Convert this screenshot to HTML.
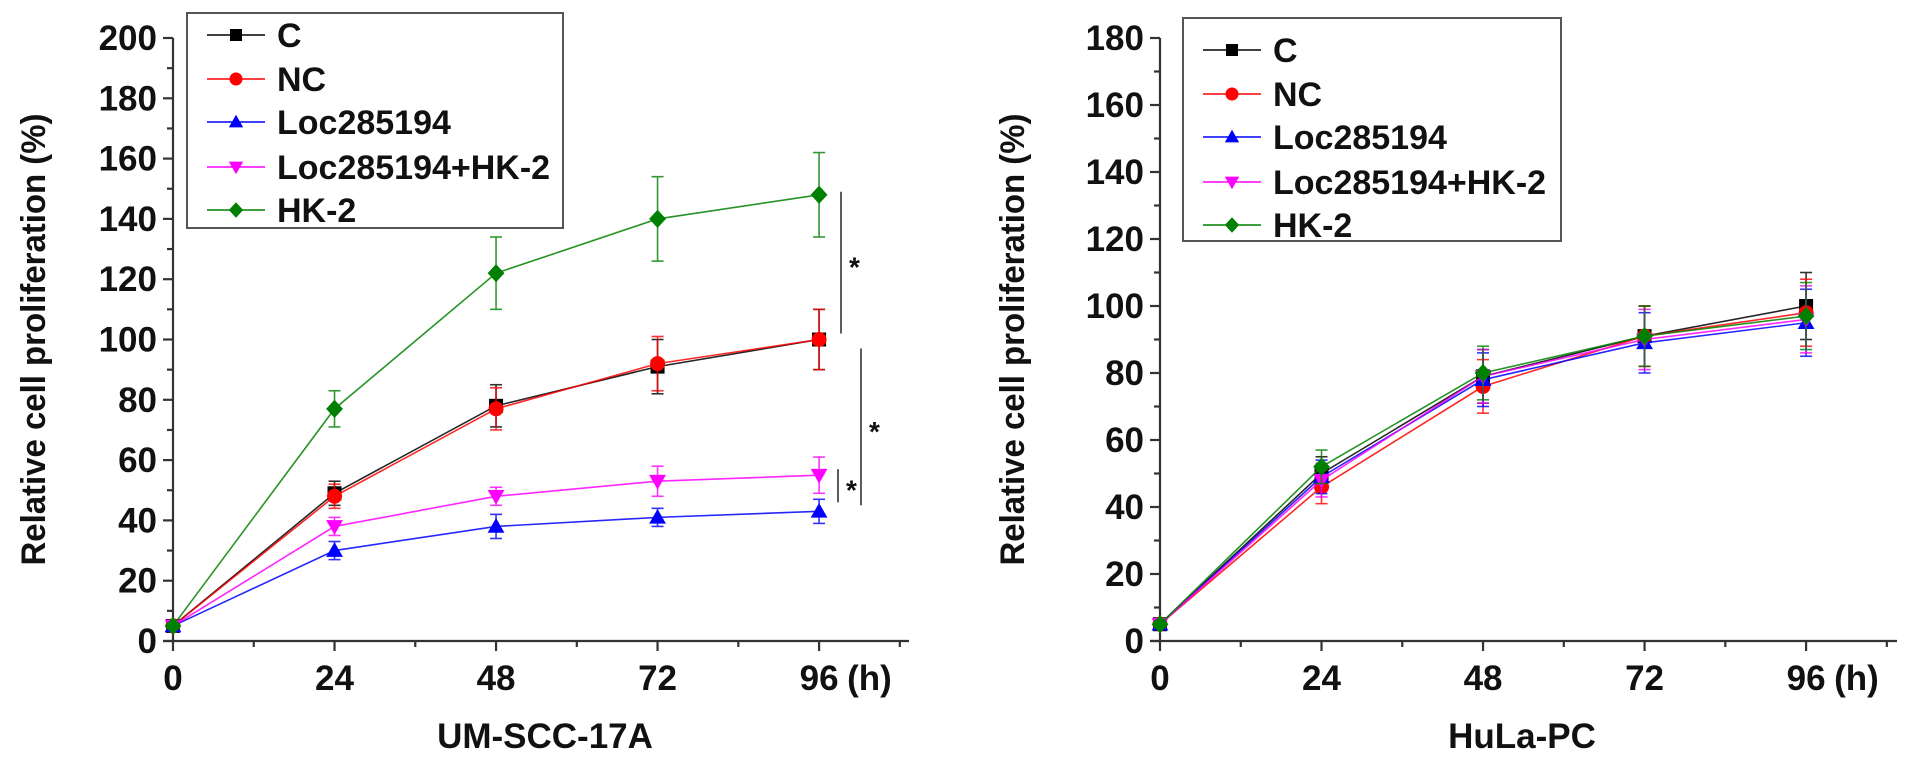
<!DOCTYPE html>
<html><head><meta charset="utf-8"><style>
html,body{margin:0;padding:0;background:#fff}
svg{display:block}
text{font-family:"Liberation Sans",Arial,sans-serif;font-weight:bold;fill:#111}
</style></head><body>
<svg id="chart" width="1913" height="763" viewBox="0 0 1913 763" xmlns="http://www.w3.org/2000/svg"></svg>
<script>
const hours = [0, 24, 48, 72, 96];
const seriesNames = ["C", "NC", "Loc285194", "Loc285194+HK-2", "HK-2"];
const seriesColors = ["#000000", "#ff0000", "#0000ff", "#ff00ff", "#008000"];
const seriesMarkers = ["square", "circle", "triUp", "triDown", "diamond"];
// Left panel (UM-SCC-17A)
const leftC = [5, 49, 78, 91, 100];
const leftNC = [5, 48, 77, 92, 100];
const leftLoc = [5, 30, 38, 41, 43];
const leftLocHK = [5, 38, 48, 53, 55];
const leftHK = [5, 77, 122, 140, 148];
const leftErrC = [1, 4, 7, 9, 10];
const leftErrNC = [1, 4, 7, 9, 10];
const leftErrLoc = [1, 3, 4, 3, 4];
const leftErrLocHK = [1, 3, 3, 5, 6];
const leftErrHK = [1, 6, 12, 14, 14];
// Right panel (HuLa-PC)
const rightC = [5, 50, 79, 91, 100];
const rightNC = [5, 46, 76, 91, 98];
const rightLoc = [5, 49, 78, 89, 95];
const rightLocHK = [5, 48, 79, 90, 96];
const rightHK = [5, 52, 80, 91, 97];
const rightErr = [1, 5, 8, 9, 10];
const leftYTicks = [0, 20, 40, 60, 80, 100, 120, 140, 160, 180, 200];
const rightYTicks = [0, 20, 40, 60, 80, 100, 120, 140, 160, 180];
const xTickLabels = ["0", "24", "48", "72", "96"];
// significance brackets [from, to] in y-values
const sigBrackets = [[149, 102], [97, 45], [57, 46]];

const NS = "http://www.w3.org/2000/svg";
const svg = document.getElementById("chart");
function mk(tag, attrs, parent) {
  const e = document.createElementNS(NS, tag);
  for (const k in attrs) e.setAttribute(k, attrs[k]);
  (parent || svg).appendChild(e);
  return e;
}
function marker(g, type, cx, cy, color, s) {
  let el;
  if (type === "square") el = mk("rect", {x: cx - s/2, y: cy - s/2, width: s, height: s, fill: color}, g);
  else if (type === "circle") el = mk("circle", {cx, cy, r: s/2 + 0.5, fill: color}, g);
  else if (type === "triUp") el = mk("polygon", {points: `${cx},${cy - s*0.6} ${cx - s*0.6},${cy + s*0.45} ${cx + s*0.6},${cy + s*0.45}`, fill: color}, g);
  else if (type === "triDown") el = mk("polygon", {points: `${cx},${cy + s*0.6} ${cx - s*0.6},${cy - s*0.45} ${cx + s*0.6},${cy - s*0.45}`, fill: color}, g);
  else el = mk("polygon", {points: `${cx},${cy - s*0.65} ${cx + s*0.6},${cy} ${cx},${cy + s*0.65} ${cx - s*0.6},${cy}`, fill: color}, g);
  return el;
}

function panel(cfg) {
  const g = mk("g", {});
  
  
  const X = v => cfg.x0 + v * cfg.xs;
  const Y = v => cfg.y0 - v * cfg.ys;
  const ymax = cfg.yTicks[cfg.yTicks.length - 1];
  const ax = mk("g", {stroke: "#333", "stroke-width": 2.2, fill: "none"}, g);
  
  
  mk("line", {x1: cfg.x0, y1: Y(ymax), x2: cfg.x0, y2: cfg.y0}, ax);
  mk("line", {x1: cfg.x0 - 10, y1: cfg.y0, x2: cfg.xEnd, y2: cfg.y0}, ax);
  for (let v = 0; v <= ymax; v += 10) {
    const major = v % 20 === 0;
    mk("line", {x1: cfg.x0 - (major ? 10 : 6), y1: Y(v), x2: cfg.x0, y2: Y(v)}, ax);
  }
  for (let h = 12; X(h) <= cfg.xEnd; h += 12) {
    mk("line", {x1: X(h), y1: cfg.y0, x2: X(h), y2: cfg.y0 + (h % 24 === 0 ? 10 : 6)}, ax);
  }
  mk("line", {x1: X(0), y1: cfg.y0, x2: X(0), y2: cfg.y0 + 10}, ax);
  cfg.yTicks.forEach(v => {
    const t = mk("text", {x: cfg.x0 - 16, y: Y(v) + 12, "text-anchor": "end", "font-size": 35}, g);
    t.textContent = v;
    
    
  });
  xTickLabels.forEach((lab, i) => {
    const t = mk("text", {x: X(hours[i]), y: 690, "text-anchor": "middle", "font-size": 35}, g);
    t.textContent = lab;
    
    
  });
  const hu = mk("text", {x: X(96) + 28, y: 690, "font-size": 35}, g);
  hu.textContent = "(h)";
  
  
  const xt = mk("text", {x: cfg.titleX, y: 748, "text-anchor": "middle", "font-size": 35}, g);
  xt.textContent = cfg.title;
  
  
  const yt = mk("text", {x: 0, y: 0, "text-anchor": "middle", "font-size": 34, textLength: 452, lengthAdjust: "spacingAndGlyphs", transform: `translate(${cfg.yTitleX},${(Y(ymax) + cfg.y0) / 2}) rotate(-90)`}, g);
  yt.textContent = "Relative cell proliferation (%)";
  
  
  cfg.series.forEach((vals, si) => {
    const sg = mk("g", {}, g);
    
    
    const col = seriesColors[si];
    const pts = vals.map((v, i) => `${X(hours[i])},${Y(v)}`).join(" ");
    mk("polyline", {points: pts, fill: "none", stroke: col, "stroke-width": 1.6, opacity: 0.85}, sg);
    vals.forEach((v, i) => {
      const e = cfg.errs[si][i];
      const x = X(hours[i]);
      const eg = mk("g", {stroke: col, "stroke-width": 1.6, opacity: 0.8}, sg);
      
      
      mk("line", {x1: x, y1: Y(v - e), x2: x, y2: Y(v + e)}, eg);
      mk("line", {x1: x - 6, y1: Y(v - e), x2: x + 6, y2: Y(v - e)}, eg);
      mk("line", {x1: x - 6, y1: Y(v + e), x2: x + 6, y2: Y(v + e)}, eg);
      const m = marker(sg, seriesMarkers[si], x, Y(v), col, 14);
      
      
    });
  });
  const L = cfg.legend;
  const lg = mk("g", {}, g);
  
  
  mk("rect", {x: L.x, y: L.y, width: L.w, height: L.h, fill: "#fff", stroke: "#555", "stroke-width": 2}, lg);
  seriesNames.forEach((nm, i) => {
    const ry = L.rows[i];
    const eg = mk("g", {}, lg);
    
    
    mk("line", {x1: L.lx, y1: ry, x2: L.lx + 58, y2: ry, stroke: seriesColors[i], "stroke-width": 1.6}, eg);
    marker(eg, seriesMarkers[i], L.lx + 29, ry, seriesColors[i], 12);
    const t = mk("text", {x: L.tx, y: ry + 12, "font-size": 34}, eg);
    t.textContent = nm;
  });
  return {g, X, Y};
}

const left = panel({
  name: "panel-um-scc-17a", x0: 173, xs: 6.73, xEnd: 909, y0: 641, ys: 3.015,
  yTicks: leftYTicks, title: "UM-SCC-17A", titleX: 545, yTitleX: 45,
  series: [leftC, leftNC, leftLoc, leftLocHK, leftHK],
  errs: [leftErrC, leftErrNC, leftErrLoc, leftErrLocHK, leftErrHK],
  legend: {x: 187, y: 13, w: 376, h: 215, lx: 207, tx: 277, rows: [35, 79, 122, 167, 210]}
});
const right = panel({
  name: "panel-hula-pc", x0: 1160, xs: 6.73, xEnd: 1897, y0: 641, ys: 3.35,
  yTicks: rightYTicks, title: "HuLa-PC", titleX: 1522, yTitleX: 1024,
  series: [rightC, rightNC, rightLoc, rightLocHK, rightHK],
  errs: [rightErr, rightErr, rightErr, rightErr, rightErr],
  legend: {x: 1183, y: 18, w: 378, h: 223, lx: 1203, tx: 1273, rows: [50, 94, 137, 182, 225]}
});
const sigX = [841, 861, 838];
sigBrackets.forEach((b, i) => {
  const sg = mk("g", {});
  
  
  mk("line", {x1: sigX[i], y1: left.Y(b[0]), x2: sigX[i], y2: left.Y(b[1]), stroke: "#333", "stroke-width": 1.6}, sg);
  const t = mk("text", {x: sigX[i] + 8, y: (left.Y(b[0]) + left.Y(b[1])) / 2 + 14, "font-size": 28, "font-weight": "normal"}, sg);
  t.textContent = "*";
});
</script>
</body></html>
